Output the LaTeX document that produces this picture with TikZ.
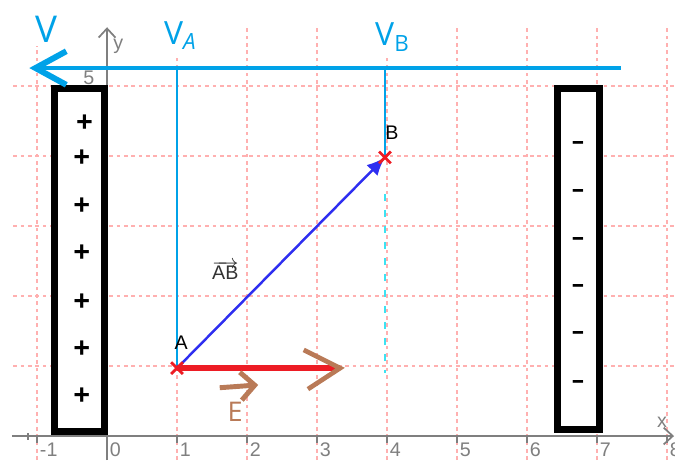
\documentclass[tikz,border=0pt]{standalone}
\usepackage{fontspec}
\setmainfont{Open Sans}
\newfontfamily\axisfont{Liberation Sans}
\usepackage{tikz}
\usetikzlibrary{arrows.meta,positioning,calc,shapes.misc}
\definecolor{potblue}{HTML}{00A2E8}
\definecolor{potcyan}{HTML}{3CE2F2}
\definecolor{vecblue}{HTML}{2E2EF0}
\definecolor{fieldred}{HTML}{ED1C24}
\definecolor{fieldbrown}{HTML}{B97A57}
\definecolor{gridpink}{HTML}{FFB0B0}
\definecolor{axisgray}{HTML}{7F7F7F}

\begin{document}
\begin{tikzpicture}[
    x=1cm,y=1cm,
    gridln/.style = {gridpink,line width=0.5pt,dash pattern=on 1.5pt off 1.5pt},
    axis/.style   = {axisgray,line width=0.7pt},
    num/.style    = {font=\axisfont\fontsize{8}{8}\selectfont,text=axisgray,inner sep=1pt},
    plate/.style  = {rectangle,draw=black,fill=white,line width=2.8pt,inner sep=0pt},
    chg/.style    = {font=\bfseries\fontsize{12}{12}\selectfont,inner sep=0pt},
    mns/.style    = {font=\bfseries\fontsize{10}{10}\selectfont,inner sep=0pt},
    pot/.style    = {potblue,line width=2pt},
    potv/.style   = {potblue,line width=0.8pt},
    vlab/.style   = {font=\fontsize{13}{13}\selectfont,text=potblue,fill=white,inner sep=1.5pt},
    pt/.style     = {font=\axisfont\fontsize{8}{8}\selectfont,inner sep=1pt},
    ptmark/.style = {cross out,draw=fieldred,line width=1.1pt,minimum size=0.13cm,inner sep=0pt},
    vec/.style    = {vecblue,line width=1pt,-{Latex[length=2.6mm,width=2.2mm]}},
    fld/.style    = {fieldbrown,line width=2pt},
  ]
  \useasboundingbox (-1.529,-0.343) rectangle (8.114,6.229);

  % grid
  \foreach \i in {-1,...,8}
    \draw[gridln] (\i,-0.343) -- (\i,5.84);
  \foreach \j in {1,...,5}
    \draw[gridln] (-1.34,\j) -- (8.114,\j);

  % axes
  \draw[axis,-{Straight Barb[length=1.3mm,width=2.4mm]}] (-1.36,0) -- (8.1,0);
  \draw[axis,-{Straight Barb[length=1.3mm,width=2.4mm]}] (0,-0.343) -- (0,5.84);
  \draw[axis] (-1.13,0.04) -- (-1.13,-0.06);
  \foreach \i in {-1,...,8}{
    \draw[axis] (\i,0) -- (\i,-0.1);
    \node[num,anchor=north west] (n\i) at (\i,-0.06) {\i};
  }
  \node[num] (y5) at (-0.26,5.11) {5};
  \node[num] (ylab) at (0.16,5.57) {y};
  \node[num] (xlab) at (7.93,0.19) {x};

  % plates
  \node[plate,minimum width=0.714cm,minimum height=4.90cm] (pos) at (-0.393,2.51) {};
  \node[plate,minimum width=0.60cm,minimum height=4.87cm]  (neg) at (6.74,2.525) {};

  \node[chg] (p1) at (-0.32,4.46) {+};
  \node[chg] (p2) at (-0.36,3.96) {+};
  \node[chg] (p3) at (-0.36,3.28) {+};
  \node[chg] (p4) at (-0.36,2.60) {+};
  \node[chg] (p5) at (-0.36,1.91) {+};
  \node[chg] (p6) at (-0.36,1.23) {+};
  \node[chg] (p7) at (-0.36,0.56) {+};

  \node[mns] (m1) at (6.73,4.15) {–};
  \node[mns] (m2) at (6.73,3.47) {–};
  \node[mns] (m3) at (6.73,2.78) {–};
  \node[mns] (m4) at (6.73,2.11) {–};
  \node[mns] (m5) at (6.73,1.43) {–};
  \node[mns] (m6) at (6.73,0.74) {–};

  % points
  \coordinate (A) at (1,0.97);
  \coordinate (B) at (3.97,3.98);
  \coordinate (Vl) at (-1.11,5.257);
  \coordinate (Vr) at (7.34,5.257);
  \coordinate (VAtop) at (1,5.257);
  \coordinate (VBtop) at (3.97,5.257);
  \coordinate (Etip) at (3.33,0.97);
  \coordinate (Bdash) at (3.97,3.46);
  \coordinate (Bfoot) at (3.97,0.9);
  \coordinate (Es) at (1.61,0.69);
  \coordinate (Ee) at (2.16,0.73);

  % potential lines
  \draw[potv] (VAtop) -- (A);
  \draw[potv] (VBtop) -- (B);
  \draw[potcyan,line width=1pt,dash pattern=on 3pt off 3.5pt] (Bdash) -- (Bfoot);
  \draw[pot,-{Straight Barb[length=4.4mm,width=4.8mm,line width=2.4pt]}] (Vr) -- (Vl);

  % field line and vector
  \draw[fieldred,line width=2.4pt] (A) -- (Etip);
  \draw[fld,line width=1.9pt] ($(Etip)+(-0.52,0.26)$) -- (Etip) -- ($(Etip)+(-0.46,-0.3)$);
  \draw[vec] (A) -- (B);
  \draw[fld,-{Straight Barb[length=2mm,width=4mm]}] (Es) -- (Ee);

  \node[ptmark] (Ax) at (A) {};
  \node[ptmark] (Bx) at (B) {};

  % labels
  \node[vlab,font=\fontsize{15}{15}\selectfont] (V) at (-0.86,5.81) {V};
  \node[vlab] (VA) at (1.05,5.72) {V\textsubscript{\itshape A}};
  \node[vlab] (VB) at (4.08,5.70) {V\textsubscript{B}};
  \node[pt] (Alab) at (1.06,1.33) {A};
  \node[pt] (Blab) at (4.07,4.33) {B};
  \node[pt,text=black!80] (ABlab) at (1.69,2.37) {$\overrightarrow{\mbox{AB}}$};
  \node[font=\fontsize{11}{11}\selectfont,text=fieldbrown,inner sep=1pt] (Elab) at (1.83,0.34) {E};

\end{tikzpicture}
\end{document}
